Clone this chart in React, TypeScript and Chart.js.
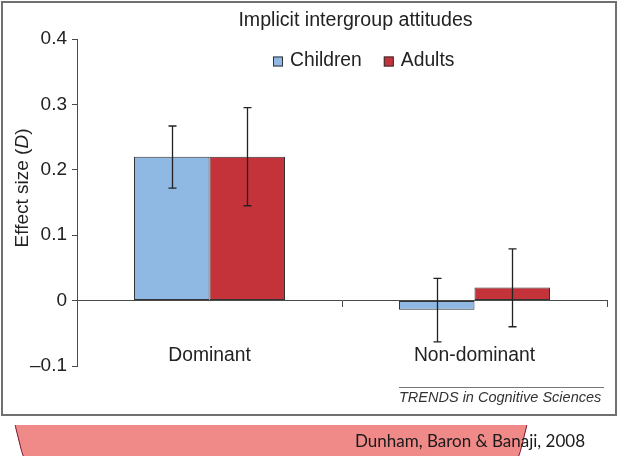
import React, { useEffect, useRef } from 'react';
import { Chart, registerables } from 'chart.js';

Chart.register(...registerables);

const categories = ['Dominant', 'Non-dominant'];
const seriesNames = ['Children', 'Adults'];
const childrenValues = [0.22, -0.014];
const adultsValues = [0.22, 0.02];
const childrenErrLow = [0.172, -0.063];
const childrenErrHigh = [0.267, 0.034];
const adultsErrLow = [0.145, -0.04];
const adultsErrHigh = [0.295, 0.079];
const yTickValues = [-0.1, 0, 0.1, 0.2, 0.3, 0.4];
const yTickLabels = ['\u20130.1', '0', '0.1', '0.2', '0.3', '0.4'];
const chartTitle = 'Implicit intergroup attitudes';
const yAxisTitleParts = ['Effect size (', 'D', ')'];
const sourceNote = 'TRENDS in Cognitive Sciences';
const citation = 'Dunham, Baron & Banaji, 2008';

const FONT = '"Liberation Sans", Arial, Helvetica, sans-serif';
const BLUE = '#8FB8E3';
const RED = '#C4323A';
const INK = '#222222';
const AXIS = '#4a4a4a';

const errLows = [childrenErrLow, adultsErrLow];
const errHighs = [childrenErrHigh, adultsErrHigh];

const overlayPlugin = {
  id: 'overlayPlugin',
  afterDatasetsDraw(chart: any) {
    const ctx = chart.ctx;
    const y = chart.scales.y;
    ctx.save();
    ctx.strokeStyle = INK;
    ctx.lineWidth = 1.3;
    chart.data.datasets.forEach((_: any, di: number) => {
      const meta = chart.getDatasetMeta(di);
      meta.data.forEach((el: any, j: number) => {
        const x = Math.round(el.x) + 0.5;
        const yt = y.getPixelForValue(errHighs[di][j]);
        const yb = y.getPixelForValue(errLows[di][j]);
        ctx.beginPath();
        ctx.moveTo(x, yt);
        ctx.lineTo(x, yb);
        ctx.moveTo(x - 4, yt);
        ctx.lineTo(x + 4, yt);
        ctx.moveTo(x - 4, yb);
        ctx.lineTo(x + 4, yb);
        ctx.stroke();
      });
    });
    ctx.restore();
  },
  afterDraw(chart: any) {
    const ctx = chart.ctx;
    ctx.save();
    // title
    ctx.fillStyle = INK;
    ctx.font = `19.6px ${FONT}`;
    ctx.textAlign = 'center';
    ctx.textBaseline = 'middle';
    ctx.fillText(chartTitle, 355.5, 21);
    // legend
    ctx.font = `19.3px ${FONT}`;
    ctx.textAlign = 'left';
    let lx = 273;
    chart.data.datasets.forEach((ds: any) => {
      ctx.fillStyle = ds.backgroundColor;
      ctx.fillRect(lx, 56.5, 10, 10);
      ctx.strokeStyle = '#333';
      ctx.lineWidth = 1;
      ctx.strokeRect(lx + 0.5, 57, 9, 9);
      ctx.fillStyle = INK;
      ctx.fillText(ds.label, lx + 17, 61);
      lx += 17 + ctx.measureText(ds.label).width + 22;
    });
    // y axis title
    ctx.translate(22.5, 188);
    ctx.rotate(-Math.PI / 2);
    const fonts = [`19px ${FONT}`, `italic 19px ${FONT}`, `19px ${FONT}`];
    let total = 0;
    const widths = yAxisTitleParts.map((p, i) => {
      ctx.font = fonts[i];
      const w = ctx.measureText(p).width;
      total += w;
      return w;
    });
    let tx = -total / 2;
    yAxisTitleParts.forEach((p, i) => {
      ctx.font = fonts[i];
      ctx.fillText(p, tx, 0);
      tx += widths[i];
    });
    ctx.restore();
  },
};

export default function App() {
  const canvasRef = useRef<HTMLCanvasElement | null>(null);

  useEffect(() => {
    if (!canvasRef.current) return;
    const chart = new Chart(canvasRef.current, {
      type: 'bar',
      data: {
        labels: categories,
        datasets: [
          {
            label: seriesNames[0],
            data: childrenValues,
            backgroundColor: BLUE,
            borderColor: '#333',
            borderWidth: 1,
            borderSkipped: false,
          },
          {
            label: seriesNames[1],
            data: adultsValues,
            backgroundColor: RED,
            borderColor: '#333',
            borderWidth: 1,
            borderSkipped: false,
          },
        ],
      },
      options: {
        animation: false,
        responsive: false,
        devicePixelRatio: 1,
        categoryPercentage: 0.57,
        barPercentage: 1,
        layout: { padding: { left: 3, right: 19, top: 39, bottom: 90 } },
        plugins: {
          legend: { display: false },
          title: { display: false },
          tooltip: { enabled: false },
        },
        scales: {
          x: {
            type: 'category',
            position: { y: 0 } as any,
            offset: true,
            grid: {
              offset: true,
              drawOnChartArea: false,
              drawTicks: true,
              tickLength: 6,
              color: AXIS,
              lineWidth: 1,
            },
            border: { display: true, color: AXIS, width: 1 },
            ticks: {
              font: { family: FONT, size: 19.3 },
              color: INK,
              padding: 37,
              maxRotation: 0,
            },
          },
          y: {
            type: 'linear',
            min: -0.1,
            max: 0.4,
            afterFit(scale: any) {
              scale.width = 74;
            },
            grid: {
              drawOnChartArea: false,
              drawTicks: true,
              tickLength: 5,
              color: AXIS,
              lineWidth: 1,
            },
            border: { display: true, color: AXIS, width: 1 },
            ticks: {
              stepSize: 0.1,
              padding: 5,
              font: { family: FONT, size: 19 },
              color: INK,
              callback: (value: any) => {
                const i = yTickValues.findIndex((v) => Math.abs(v - Number(value)) < 1e-6);
                return i >= 0 ? yTickLabels[i] : '';
              },
            },
          },
        },
      },
      plugins: [overlayPlugin],
    } as any);
    return () => chart.destroy();
  }, []);

  return (
    <div
      style={{
        position: 'fixed',
        left: 0,
        top: 0,
        width: 626,
        height: 456,
        background: '#fff',
        overflow: 'hidden',
      }}
    >
      <div
        style={{
          position: 'absolute',
          left: 1,
          top: 1,
          width: 616,
          height: 415,
          boxSizing: 'border-box',
          border: '2px solid #707070',
        }}
      />
      <canvas
        ref={canvasRef}
        width={626}
        height={456}
        style={{ position: 'absolute', left: 0, top: 0, width: 626, height: 456 }}
      />
      <div
        style={{
          position: 'absolute',
          left: 399,
          top: 387,
          width: 205,
          height: 1,
          background: '#777',
        }}
      />
      <div
        style={{
          position: 'absolute',
          left: 399,
          top: 388,
          width: 210,
          height: 18,
          lineHeight: '18px',
          fontFamily: FONT,
          fontStyle: 'italic',
          fontSize: 14.5,
          color: '#333',
          whiteSpace: 'nowrap',
        }}
      >
        {sourceNote}
      </div>
      <div
        style={{
          position: 'absolute',
          left: 0,
          top: 425,
          width: 626,
          height: 31,
          overflow: 'hidden',
        }}
      >
        <div
          style={{
            position: 'absolute',
            left: 10,
            top: -310.5,
            width: 522,
            height: 522,
            boxSizing: 'border-box',
            borderRadius: '50%',
            background: '#EF8A88',
            border: '1.5px solid #7a1a30',
          }}
        />
        <div
          style={{
            position: 'absolute',
            left: 355,
            top: 5,
            height: 22,
            lineHeight: '22px',
            fontFamily: 'Lato, "Open Sans", sans-serif',
            fontSize: 17,
            color: '#1a1a1a',
            whiteSpace: 'nowrap',
          }}
        >
          {citation}
        </div>
      </div>
    </div>
  );
}
